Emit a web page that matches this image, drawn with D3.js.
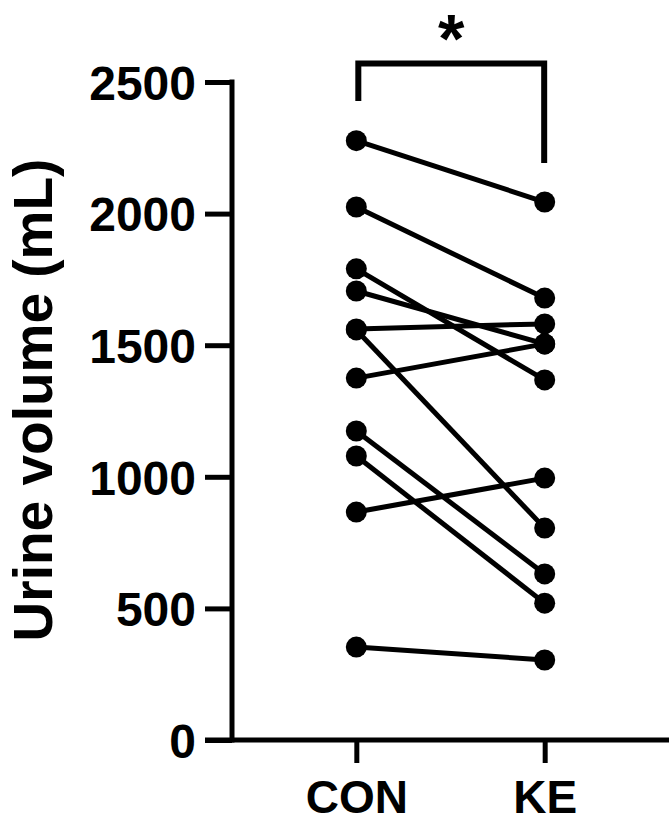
<!DOCTYPE html>
<html>
<head>
<meta charset="utf-8">
<script src="https://cdn.jsdelivr.net/npm/d3@7"></script>
<style>
  html, body { margin: 0; padding: 0; background: #fff; }
  svg { display: block; }
  text { font-family: "Liberation Sans", Arial, sans-serif; font-weight: bold; fill: #000; }
</style>
</head>
<body>
<svg id="chart" width="669" height="824"></svg>
<script>
// Paired urine volume per subject, control vs ketone ester
const groups = ["CON", "KE"];
const conValues = [2277, 2025, 1790, 1706, 1562, 1558, 1375, 1174, 1079, 866, 353];
const keValues  = [2044, 1679, 1368, 1505, 1581,  805, 1505,  631,  520, 995, 304];
const yTicks = [0, 500, 1000, 1500, 2000, 2500];
const yTitle = "Urine volume (mL)";
const sigMark = "*";

const svg = d3.select("#chart");
const plotLeft = 232, plotRight = 669, plotTop = 82, plotBottom = 740;

const x = d3.scalePoint().domain(groups).range([plotLeft, plotRight]).padding(0.66);
const y = d3.scaleLinear().domain([0, 2500]).range([plotBottom, plotTop]);

const stroke = 5;

// Y axis
const yAxis = svg.append("g")
  .attr("transform", `translate(${plotLeft},0)`)
  .call(d3.axisLeft(y).tickValues(yTicks).tickFormat(d3.format("d"))
    .tickSize(27).tickSizeOuter(0).tickPadding(9));
yAxis.select(".domain").attr("stroke", "#000").attr("stroke-width", stroke)
  .attr("d", `M0,${plotTop - 2.5}V${plotBottom + 2.5}`);
yAxis.selectAll(".tick line").attr("stroke", "#000").attr("stroke-width", stroke);
yAxis.selectAll(".tick text").style("font-size", "48px").attr("dy", "0.36em");

// X axis
const xAxis = svg.append("g")
  .attr("transform", `translate(0,${plotBottom})`)
  .call(d3.axisBottom(x).tickSize(23).tickSizeOuter(0).tickPadding(17));
xAxis.select(".domain").attr("stroke", "#000").attr("stroke-width", stroke)
  .attr("d", `M${plotLeft - 27},0H${plotRight}`);
xAxis.selectAll(".tick line").attr("stroke", "#000").attr("stroke-width", stroke);
xAxis.selectAll(".tick text").style("font-size", "46px").attr("dy", "0.71em");

// Y title
svg.append("text")
  .attr("transform", `translate(52,400) rotate(-90)`)
  .attr("text-anchor", "middle")
  .style("font-size", "55px")
  .text(yTitle);

// Paired lines
const pairs = conValues.map((c, i) => [c, keValues[i]]);
svg.append("g").selectAll("line").data(pairs).join("line")
  .attr("x1", x("CON")).attr("x2", x("KE"))
  .attr("y1", d => y(d[0])).attr("y2", d => y(d[1]))
  .attr("stroke", "#000").attr("stroke-width", stroke);

// Points
const pts = svg.append("g");
pts.selectAll("circle.con").data(conValues).join("circle")
  .attr("class", "con").attr("cx", x("CON")).attr("cy", d => y(d)).attr("r", 10.5).attr("fill", "#000");
pts.selectAll("circle.ke").data(keValues).join("circle")
  .attr("class", "ke").attr("cx", x("KE")).attr("cy", d => y(d)).attr("r", 10.5).attr("fill", "#000");

// Significance bracket
const bx1 = x("CON") + 2, bx2 = x("KE") - 0.5, by = 63.5;
svg.append("path")
  .attr("d", `M${bx1},101V${by}H${bx2}V163`)
  .attr("fill", "none").attr("stroke", "#000").attr("stroke-width", 6)
  .attr("stroke-linejoin", "miter");
svg.append("text")
  .attr("x", (bx1 + bx2) / 2)
  .attr("y", 62)
  .attr("text-anchor", "middle")
  .style("font-size", "68px")
  .text(sigMark);
</script>
</body>
</html>
